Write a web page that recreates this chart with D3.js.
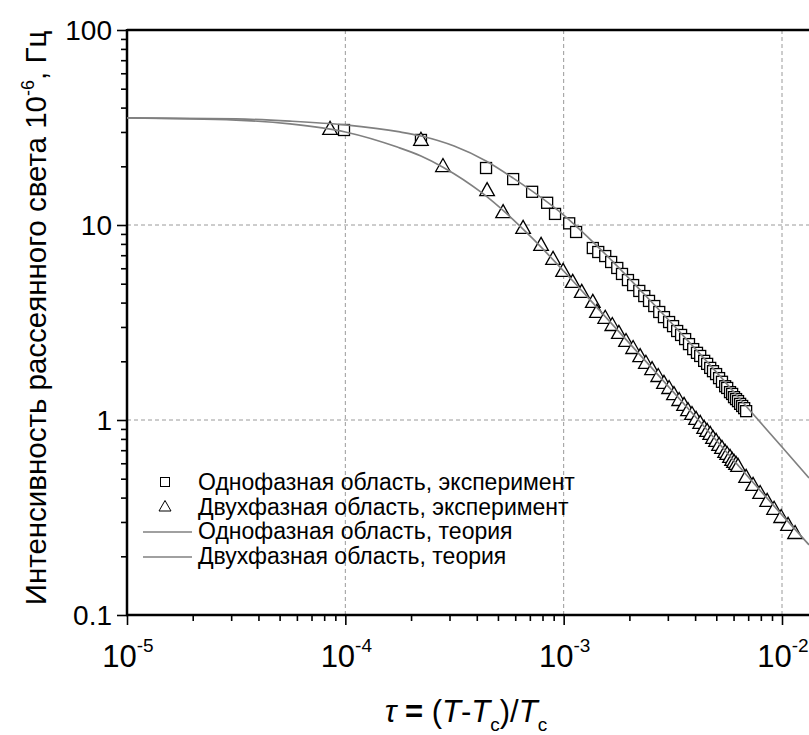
<!DOCTYPE html>
<html>
<head>
<meta charset="utf-8">
<script src="https://cdn.jsdelivr.net/npm/d3@7"></script>
<style>
  html, body { margin: 0; padding: 0; background: #fff; }
  svg { display: block; }
  text { font-family: "Liberation Sans", Arial, sans-serif; fill: #000; }
</style>
</head>
<body>
<svg id="chart" width="809" height="735"></svg>
<script>
// ---- data ----
const xMajor = [1e-5, 1e-4, 1e-3, 1e-2];
const xExp = ["-5", "-4", "-3", "-2"];
const yMajor = [0.1, 1, 10, 100];
const yLabels = ["0.1", "1", "10", "100"];

// Однофазная область, эксперимент (squares)
const sqTau = [9.86e-5, 2.22e-4, 4.41e-4, 5.87e-4, 7.17e-4, 8.40e-4, 9.13e-4, 1.06e-3, 1.14e-3, 1.36e-3,
  1.44e-3, 1.55e-3, 1.65e-3, 1.76e-3, 1.85e-3, 1.97e-3, 2.08e-3, 2.22e-3, 2.34e-3, 2.46e-3,
  2.60e-3, 2.74e-3, 2.88e-3, 3.04e-3, 3.17e-3, 3.31e-3, 3.45e-3, 3.60e-3, 3.75e-3, 3.92e-3,
  4.08e-3, 4.22e-3, 4.40e-3, 4.54e-3, 4.69e-3, 4.83e-3, 4.99e-3, 5.15e-3, 5.31e-3, 5.49e-3,
  5.61e-3, 5.78e-3, 5.91e-3, 6.03e-3, 6.16e-3, 6.29e-3, 6.43e-3, 6.57e-3, 6.71e-3, 6.85e-3];
const sqI = [30.7, 27.3, 19.6, 17.2, 14.8, 13.0, 11.4, 10.2, 9.21, 7.62,
  7.27, 6.93, 6.46, 6.02, 5.61, 5.22, 4.92, 4.59, 4.32, 4.08,
  3.84, 3.58, 3.37, 3.18, 3.03, 2.86, 2.73, 2.60, 2.45, 2.31,
  2.21, 2.13, 2.01, 1.94, 1.85, 1.78, 1.72, 1.64, 1.57, 1.49,
  1.46, 1.39, 1.36, 1.31, 1.28, 1.25, 1.21, 1.18, 1.15, 1.11];

// Двухфазная область, эксперимент (triangles)
const trTau = [8.51e-5, 2.22e-4, 2.80e-4, 4.46e-4, 5.28e-4, 6.52e-4, 7.88e-4, 8.94e-4, 9.94e-4, 1.10e-3,
  1.21e-3, 1.36e-3, 1.42e-3, 1.55e-3, 1.67e-3, 1.79e-3, 1.93e-3, 2.08e-3, 2.24e-3, 2.38e-3,
  2.54e-3, 2.71e-3, 2.88e-3, 3.04e-3, 3.20e-3, 3.38e-3, 3.56e-3, 3.71e-3, 3.87e-3, 4.04e-3,
  4.22e-3, 4.40e-3, 4.54e-3, 4.69e-3, 4.83e-3, 4.99e-3, 5.15e-3, 5.31e-3, 5.49e-3, 5.61e-3,
  5.78e-3, 5.91e-3, 6.03e-3, 6.16e-3, 6.29e-3, 6.85e-3, 7.37e-3, 7.94e-3, 8.55e-3, 9.20e-3,
  9.91e-3, 1.066e-2, 1.148e-2];
const trI = [30.7, 27.0, 19.8, 14.9, 11.5, 9.54, 7.80, 6.62, 5.74, 5.04,
  4.48, 3.98, 3.54, 3.30, 3.03, 2.76, 2.51, 2.31, 2.10, 1.94,
  1.80, 1.66, 1.53, 1.44, 1.34, 1.25, 1.18, 1.11, 1.06, 1.00,
  0.954, 0.899, 0.868, 0.838, 0.799, 0.771, 0.736, 0.710, 0.677, 0.661,
  0.639, 0.616, 0.602, 0.588, 0.574, 0.504, 0.459, 0.417, 0.380, 0.346,
  0.314, 0.286, 0.260];

// Однофазная область, теория
const th1Tau = [1e-5, 3.16e-5, 5.58e-5, 1e-4, 1.78e-4, 2.22e-4, 3.15e-4, 4.41e-4, 5.87e-4, 1e-3,
  1.44e-3, 2.31e-3, 3.72e-3, 5.20e-3, 7.30e-3, 1e-2, 1.33e-2];
const th1I = [35.4, 35.0, 34.1, 32.6, 30.0, 28.6, 25.4, 21.3, 17.4, 11.25,
  7.71, 4.48, 2.54, 1.68, 1.086, 0.727, 0.504];

// Двухфазная область, теория
const th2Tau = [1e-5, 3.16e-5, 5.58e-5, 1e-4, 1.73e-4, 2.22e-4, 2.80e-4, 4.23e-4, 5.50e-4, 7.24e-4,
  1.04e-3, 1.47e-3, 2.49e-3, 4.22e-3, 7.14e-3, 1e-2, 1.33e-2];
const th2I = [35.4, 34.5, 33.0, 30.0, 25.1, 22.6, 19.8, 14.6, 11.4, 8.48,
  5.54, 3.62, 1.89, 0.977, 0.498, 0.326, 0.229];

const legendLabels = [
  "Однофазная область, эксперимент",
  "Двухфазная область, эксперимент",
  "Однофазная область, теория",
  "Двухфазная область, теория"
];

// ---- layout ----
const W = 809, H = 735;
const L = 127, R = 782, T = 30, B = 615;
const svg = d3.select("#chart");

const x = d3.scaleLog().domain([1e-5, 1e-2]).range([L, R]);
const y = d3.scaleLog().domain([0.1, 100]).range([B, T]);

const minorOf = majors => {
  const out = [];
  majors.forEach(m => { for (let k = 2; k <= 9; k++) out.push(m * k); });
  return out;
};
const xMinor = minorOf([1e-5, 1e-4, 1e-3, 1e-2]).filter(v => x(v) <= W);
const yMinor = minorOf([0.1, 1, 10]);

svg.append("defs").append("clipPath").attr("id", "plotclip")
  .append("rect").attr("x", L).attr("y", T).attr("width", W - L).attr("height", B - T);

// grid
const grid = svg.append("g").attr("stroke", "#9a9a9a").attr("stroke-width", 1)
  .attr("stroke-dasharray", "4,3");
xMajor.slice(1).forEach(v => {
  grid.append("line").attr("x1", x(v)).attr("x2", x(v)).attr("y1", T).attr("y2", B);
});
yMajor.slice(1, 3).forEach(v => {
  grid.append("line").attr("x1", L).attr("x2", W).attr("y1", y(v)).attr("y2", y(v));
});

// top border
svg.append("line").attr("x1", L).attr("x2", W).attr("y1", T).attr("y2", T)
  .attr("stroke", "#000").attr("stroke-width", 2.5);

// axes
const xAxisMinor = d3.axisBottom(x).tickValues(xMinor).tickSize(6).tickSizeOuter(0).tickFormat("");
const xAxisMajor = d3.axisBottom(x).tickValues(xMajor).tickSize(10).tickSizeOuter(0).tickFormat("");
const yAxisMinor = d3.axisLeft(y).tickValues(yMinor).tickSize(6).tickSizeOuter(0).tickFormat("");
const yAxisMajor = d3.axisLeft(y).tickValues(yMajor).tickSize(10).tickSizeOuter(0).tickFormat("");

function styleAxis(g) {
  g.selectAll("path").remove();
  g.selectAll("line").attr("stroke", "#000").attr("stroke-width", 1.6);
}
svg.append("g").attr("transform", `translate(0,${B})`).call(xAxisMinor).call(styleAxis);
svg.append("g").attr("transform", `translate(0,${B})`).call(xAxisMajor).call(styleAxis);
svg.append("g").attr("transform", `translate(${L},0)`).call(yAxisMinor).call(styleAxis);
svg.append("g").attr("transform", `translate(${L},0)`).call(yAxisMajor).call(styleAxis);

// axis lines
svg.append("line").attr("x1", L - 1).attr("x2", W).attr("y1", B).attr("y2", B)
  .attr("stroke", "#000").attr("stroke-width", 2.5);
svg.append("line").attr("x1", L).attr("x2", L).attr("y1", T - 1).attr("y2", B + 1)
  .attr("stroke", "#000").attr("stroke-width", 2.5);

// tick labels
xMajor.forEach((v, i) => {
  const t = svg.append("text").attr("x", x(v) + 1).attr("y", 667)
    .attr("text-anchor", "middle").style("font-size", "31px");
  t.append("tspan").text("10");
  t.append("tspan").attr("dy", -15).style("font-size", "19px").text(xExp[i]);
});
yMajor.forEach((v, i) => {
  svg.append("text").attr("x", 112).attr("y", y(v)).attr("dy", "0.36em")
    .attr("text-anchor", "end").style("font-size", "28px").text(yLabels[i]);
});

// markers
const plot = svg.append("g").attr("clip-path", "url(#plotclip)");
const sq = sqTau.map((t, i) => ({ t, v: sqI[i] }));
const tr = trTau.map((t, i) => ({ t, v: trI[i] }));
const sqSize = 11;
plot.append("g").selectAll("rect").data(sq).join("rect")
  .attr("x", d => x(d.t) - sqSize / 2).attr("y", d => y(d.v) - sqSize / 2)
  .attr("width", sqSize).attr("height", sqSize)
  .attr("fill", "#fff").attr("stroke", "#000").attr("stroke-width", 1.3);
const triPath = "M0,-8.6L7.3,4.4L-7.3,4.4Z";
plot.append("g").selectAll("path").data(tr).join("path")
  .attr("d", triPath)
  .attr("transform", d => `translate(${x(d.t)},${y(d.v)})`)
  .attr("fill", "#fff").attr("stroke", "#000").attr("stroke-width", 1.3);

// theory lines
const line = d3.line().x(d => x(d.t)).y(d => y(d.v)).curve(d3.curveMonotoneX);
const th1 = th1Tau.map((t, i) => ({ t, v: th1I[i] }));
const th2 = th2Tau.map((t, i) => ({ t, v: th2I[i] }));
[th1, th2].forEach(s => {
  plot.append("path").datum(s).attr("d", line)
    .attr("fill", "none").attr("stroke", "#808080").attr("stroke-width", 1.7);
});

// legend
const lg = svg.append("g");
const rowY = [482, 507, 531, 556];
const textX = 198;
lg.append("rect").attr("x", 165 - 4.5).attr("y", rowY[0] - 4.5).attr("width", 9).attr("height", 9)
  .attr("fill", "#fff").attr("stroke", "#000").attr("stroke-width", 1);
lg.append("path").attr("d", "M0,-6.5L6,4L-6,4Z").attr("transform", `translate(165,${rowY[1]})`)
  .attr("fill", "#fff").attr("stroke", "#000").attr("stroke-width", 1);
[2, 3].forEach(i => {
  lg.append("line").attr("x1", 143).attr("x2", 192).attr("y1", rowY[i] + 1).attr("y2", rowY[i] + 1)
    .attr("stroke", "#808080").attr("stroke-width", 1.7);
});
legendLabels.forEach((s, i) => {
  lg.append("text").attr("x", textX).attr("y", rowY[i]).attr("dy", "0.36em")
    .style("font-size", "23px").text(s);
});

// y title
const yt = svg.append("text")
  .attr("transform", "translate(46,318) rotate(-90)")
  .attr("text-anchor", "middle").style("font-size", "29.5px");
yt.append("tspan").text("Интенсивность рассеянного света 10");
yt.append("tspan").attr("dy", -12).style("font-size", "18px").text("-6");
yt.append("tspan").attr("dy", 12).text(", Гц");

// x title
const xt = svg.append("text").attr("x", 466).attr("y", 722).attr("text-anchor", "middle")
  .style("font-size", "31px");
xt.append("tspan").style("font-style", "italic").text("τ");
xt.append("tspan").style("font-weight", "bold").text(" = ");
xt.append("tspan").text("(");
xt.append("tspan").style("font-style", "italic").text("T");
xt.append("tspan").text("-");
xt.append("tspan").style("font-style", "italic").text("T");
xt.append("tspan").attr("dy", 9).style("font-size", "19px").text("c");
xt.append("tspan").attr("dy", -9).text(")/");
xt.append("tspan").style("font-style", "italic").text("T");
xt.append("tspan").attr("dy", 9).style("font-size", "19px").text("c");
</script>
</body>
</html>
